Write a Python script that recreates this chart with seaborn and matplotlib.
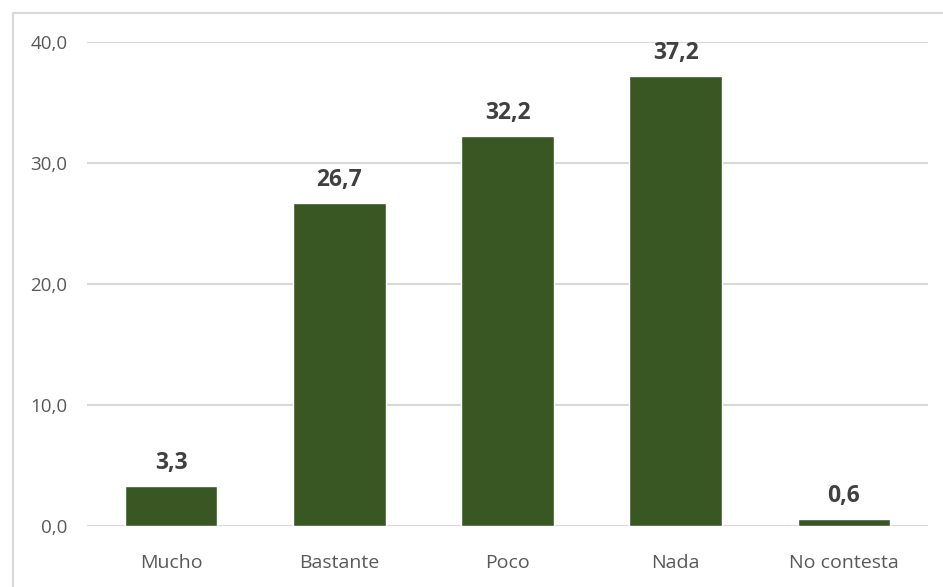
import matplotlib
matplotlib.use("Agg")
import matplotlib.pyplot as plt
import seaborn as sns
import pandas as pd
from matplotlib.lines import Line2D

categories = ["Mucho", "Bastante", "Poco", "Nada", "No contesta"]
values = [3.3, 26.7, 32.2, 37.2, 0.6]
yticks = [0, 10, 20, 30, 40]

df = pd.DataFrame({"cat": categories, "val": values})

sns.set_theme(style="white")
plt.rcParams["font.family"] = ["Open Sans", "DejaVu Sans"]

fig = plt.figure(figsize=(9.43, 5.87), dpi=100)
ax = fig.add_axes([87 / 943, 1 - 526 / 587, (928 - 87) / 943, (526 - 42) / 587])

sns.barplot(data=df, x="cat", y="val", color="#385723", saturation=1,
            width=0.55, ax=ax, zorder=3)

ax.set_ylim(0, 40)
ax.set_yticks(yticks)
ax.set_yticklabels([f"{t:.1f}".replace(".", ",") for t in yticks])
ax.yaxis.grid(True, color="#D9D9D9", linewidth=1.5, zorder=0)
ax.set_axisbelow(True)
for s in ax.spines.values():
    s.set_visible(False)
ax.set_xlabel("")
ax.set_ylabel("")
ax.tick_params(axis="y", length=0, pad=14, labelsize=13.5, labelcolor="#595959")
ax.tick_params(axis="x", length=0, pad=20, labelsize=14, labelcolor="#595959")

for c in ax.containers:
    ax.bar_label(c, labels=[f"{v:.1f}".replace(".", ",") for v in c.datavalues],
                 padding=8, fontsize=16.5, fontweight="bold", color="#404040")

# chart frame (top and left edges visible)
fig.add_artist(Line2D([12.5 / 943, 12.5 / 943], [0, 1 - 13 / 587],
                      transform=fig.transFigure, color="#D9D9D9", linewidth=1.5))
fig.add_artist(Line2D([12.5 / 943, 1], [1 - 13 / 587, 1 - 13 / 587],
                      transform=fig.transFigure, color="#D9D9D9", linewidth=1.5))

fig.savefig("out.png", dpi=100)
